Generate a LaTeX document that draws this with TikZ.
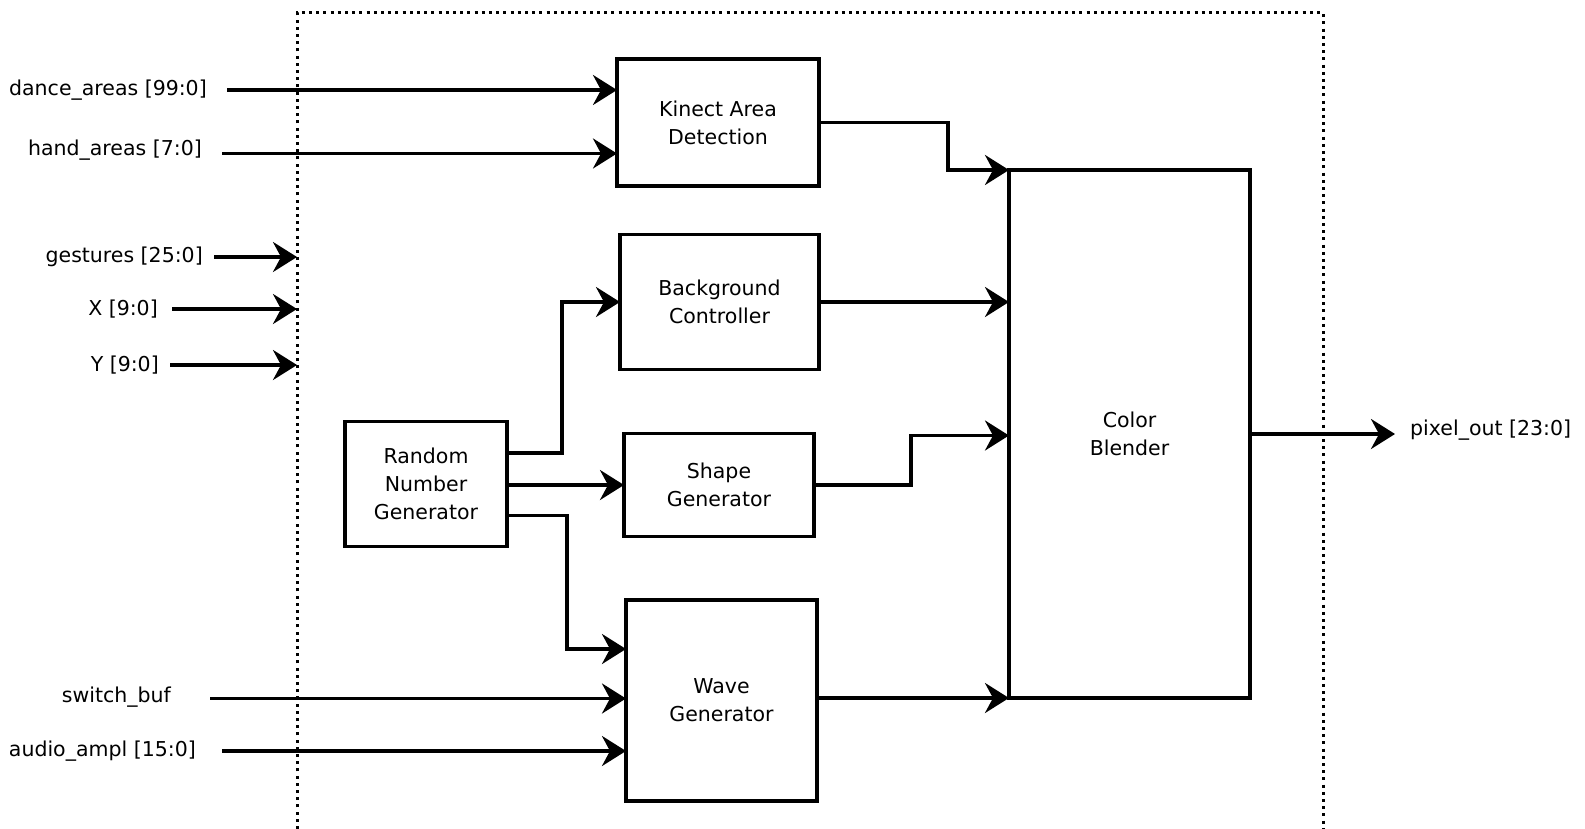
\documentclass[tikz,border=0pt]{standalone}
\usepackage{fontspec}
\setmainfont{DejaVu Sans}
\usetikzlibrary{arrows.meta}
\begin{document}
\begin{tikzpicture}[x=1pt,y=-1pt,
  blk/.style={draw, line width=3.6pt, rectangle, align=center, inner sep=0pt, outer sep=0pt, font=\fontsize{20.5}{28}\selectfont},
  lbl/.style={inner sep=0pt, font=\fontsize{20.5}{28}\selectfont},
  arr/.style={line width=3.6pt, -{Stealth[length=24pt,width=30pt,inset=8pt]}},
  boundary/.style={line width=3pt, dash pattern=on 3pt off 4.2pt}]
\useasboundingbox (0,0) rectangle (1585,829);
% boundary
\coordinate (bl) at (297,829);
\coordinate (tl) at (297,13);
\coordinate (tr) at (1323,13);
\coordinate (br) at (1323,829);
\draw[boundary] (bl) -- (tl) -- (tr) -- (br);
% blocks
\node[blk, minimum width=202pt, minimum height=127pt] (kad) at (718,122.5) {Kinect Area\\Detection};
\node[blk, minimum width=199pt, minimum height=135pt] (bgc) at (719.5,302) {Background\\Controller};
\node[blk, minimum width=162pt, minimum height=125pt] (rng) at (426,484) {Random\\Number\\Generator};
\node[blk, minimum width=190pt, minimum height=103pt] (shp) at (719,485) {Shape\\Generator};
\node[blk, minimum width=191pt, minimum height=201pt] (wav) at (721.5,700.5) {Wave\\Generator};
\node[blk, minimum width=241pt, minimum height=528pt] (cb) at (1129.5,434) {Color\\Blender};
% input labels
\node[lbl, anchor=east] (ldance) at (207,90) {dance\_areas [99:0]};
\node[lbl, anchor=east] (lhand) at (202,150) {hand\_areas [7:0]};
\node[lbl, anchor=east] (lgest) at (203,257) {gestures [25:0]};
\node[lbl, anchor=east] (lx) at (158,309) {X [9:0]};
\node[lbl, anchor=east] (ly) at (159,365) {Y [9:0]};
\node[lbl, anchor=east] (lsw) at (171,697) {switch\_buf};
\node[lbl, anchor=east] (laud) at (196,751) {audio\_ampl [15:0]};
\node[lbl, anchor=west] (lpix) at (1410,430) {pixel\_out [23:0]};
% input arrow starts
\coordinate (sdance) at (227,90);
\coordinate (shand) at (222,153.5);
\coordinate (sgest) at (214,257);
\coordinate (sx) at (172,309);
\coordinate (sy) at (170,365);
\coordinate (ssw) at (210,698.5);
\coordinate (saud) at (222,751);
\coordinate (pout) at (1395,434);
% inputs
\draw[arr] (sdance) -- (sdance -| kad.west);
\draw[arr] (shand) -- (shand -| kad.west);
\draw[arr] (sgest) -- (sgest -| tl);
\draw[arr] (sx) -- (sx -| tl);
\draw[arr] (sy) -- (sy -| tl);
\draw[arr] (ssw) -- (ssw -| wav.west);
\draw[arr] (saud) -- (saud -| wav.west);
% internal
\draw[arr] (kad.east) -- (948,122.5) -- (948,170) -- (cb.north west);
\draw[arr] (bgc.east) -- (bgc.east -| cb.west);
\draw[arr] (rng.east |- 0,453) -- (562,453) -- (562,302) -- (bgc.west);
\draw[arr] (rng.east |- 0,485) -- (shp.west |- 0,485);
\draw[arr] (rng.east |- 0,515.5) -- (567,515.5) -- (567,649) -- (wav.west |- 0,649);
\draw[arr] (shp.east) -- (911,485) -- (911,435.5) -- (cb.west |- 0,435.5);
\draw[arr] (wav.east |- cb.south west) -- (cb.south west);
\draw[arr] (cb.east) -- (pout);
\end{tikzpicture}
\end{document}
